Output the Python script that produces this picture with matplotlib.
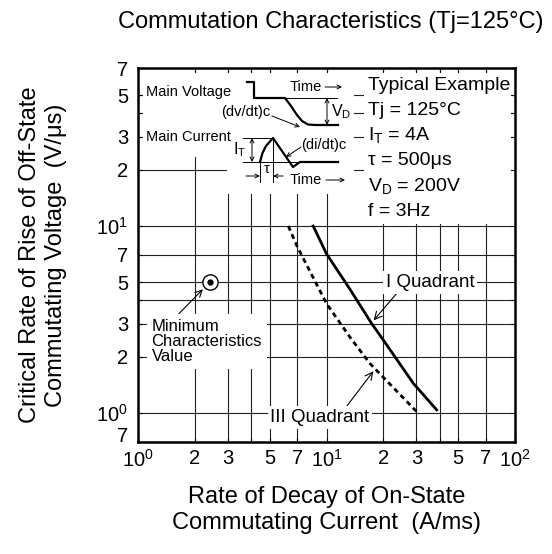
import matplotlib.pyplot as plt
from matplotlib.patches import Rectangle

plt.rcParams['font.family'] = ['Liberation Sans', 'DejaVu Sans']
plt.rcParams['mathtext.default'] = 'regular'

# curves (x in A/ms, y in V/us)
q1_rate = [8.5, 10, 13.3, 17.4, 20, 28.9, 38.4]
q1_dvdt = [10, 7.1, 4.6, 3.0, 2.46, 1.44, 1.04]
q3_rate = [6.27, 7.0, 10, 13.3, 17.0, 30.0]
q3_dvdt = [10, 7.75, 3.85, 2.55, 1.84, 1.02]
min_rate = [2.4]
min_dvdt = [5.0]

x_ticks = [1, 2, 3, 5, 7, 10, 20, 30, 50, 70, 100]
x_tick_labels = ['$10^0$', '2', '3', '5', '7', '$10^1$', '2', '3', '5', '7', '$10^2$']
y_ticks = [0.7, 1, 2, 3, 5, 7, 10, 20, 30, 50, 70]
y_tick_labels = ['7', '$10^0$', '2', '3', '5', '7', '$10^1$', '2', '3', '5', '7']
extra_grid = [4, 40]

cond_lines = ['Typical Example', 'Tj = 125°C', 'I$_T$ = 4A', 'τ = 500μs',
              'V$_D$ = 200V', 'f = 3Hz']

# waveform sketch, in sketch units (pixels of the inset, y down)
volt_t = [247, 254, 254, 285, 291, 297, 302, 308, 315, 338]
volt_v = [82, 82, 98, 98, 106, 115, 121, 124.5, 125, 125]
curr_t = [260, 262.5, 266, 273, 293, 300, 338]
curr_i = [162, 153, 146, 138, 167, 162, 162]

W, H = 552, 554
fig = plt.figure(figsize=(W / 100, H / 100), dpi=100)
ax = fig.add_axes([138 / W, 1 - 442 / H, 377 / W, 374 / H])
ax.set_xscale('log')
ax.set_yscale('log')
ax.set_xlim(1, 100)
ax.set_ylim(0.7, 70)

ax.set_xticks(x_ticks)
ax.set_xticklabels(x_tick_labels)
ax.set_xticks(extra_grid, minor=True)
ax.set_yticks(y_ticks)
ax.set_yticklabels(y_tick_labels)
ax.set_yticks(extra_grid, minor=True)
ax.tick_params(which='both', direction='in', length=3, width=0.8,
               top=True, right=True, labelsize=14.5)
ax.tick_params(axis='x', which='both', pad=5)
ax.tick_params(axis='y', which='both', pad=7)
# bottom "7" sits just above the corner so it clears the x label 10^0
ax.yaxis.get_major_ticks()[0].label1.set_va('baseline')
ax.grid(True, which='both', color='#222222', lw=0.8)
ax.set_axisbelow(True)
for sp in ax.spines.values():
    sp.set_linewidth(1.8)

# white areas that hide the grid behind the legend sketch
for x0, x1, y0, y1 in [(1.06, 3.0, 23.5, 66), (2.95, 14.0, 14.8, 66),
                       (15.9, 95, 10.3, 66)]:
    ax.add_patch(Rectangle((x0, y0), x1 - x0, y1 - y0, facecolor='white',
                           edgecolor='none', zorder=1))

ax.plot(q1_rate, q1_dvdt, color='black', lw=2, zorder=3)
ax.plot(q3_rate, q3_dvdt, color='black', lw=2, ls=(0, (1.8, 1.4)), zorder=3)
ax.plot(min_rate, min_dvdt, 'o', ms=11, mfc='white', mec='black', mew=1.0, zorder=4)
ax.plot(min_rate, min_dvdt, 'o', ms=3.5, color='black', zorder=5)

box = dict(boxstyle='square,pad=0.15', fc='white', ec='none')
arr = dict(arrowstyle='->', lw=0.8, color='black', shrinkA=0, shrinkB=2)
ax.annotate('I Quadrant', xy=(17.4, 3.05), xytext=(35.4, 5.0), fontsize=13.5,
            ha='center', va='center', bbox=box, zorder=6,
            arrowprops=dict(arr, relpos=(0.15, 0)))
ax.annotate('III Quadrant', xy=(18.1, 1.72), xytext=(9.24, 0.95), fontsize=13.5,
            ha='center', va='center', bbox=box, zorder=6,
            arrowprops=dict(arr, relpos=(0.75, 1)))
ax.annotate('Minimum\nCharacteristics\nValue', xy=(min_rate[0], min_dvdt[0]),
            xytext=(1.18, 2.41), fontsize=12, ha='left', va='center',
            linespacing=1.0, bbox=dict(boxstyle='square,pad=0.3', fc='white', ec='none'),
            zorder=6, arrowprops=dict(arr, relpos=(0.2, 1), shrinkB=7))

for i, line in enumerate(cond_lines):
    ax.text(0.61, 0.9545 - i * 0.0674, line, transform=ax.transAxes,
            fontsize=14, ha='left', va='center', zorder=6)

# waveform sketch
sk = fig.add_axes([140 / W, 1 - 192 / H, 220 / W, 120 / H])
sk.set_xlim(140, 360)
sk.set_ylim(192, 72)
sk.axis('off')
sk.patch.set_alpha(0)
fs = 10.5
thin = dict(color='black', lw=0.7)
sk.plot(volt_t, volt_v, color='black', lw=1.6)
sk.plot([285, 337], [98, 98], **thin)
sk.plot([243, 271], [138, 138], **thin)
sk.plot([243, 338], [162, 162], **thin)
sk.plot([260, 260], [162, 182], **thin)
sk.plot([273, 273], [138, 182], **thin)
sk.plot(curr_t, curr_i, color='black', lw=1.6)
dbl = dict(arrowstyle='<->', lw=0.7, color='black', shrinkA=0, shrinkB=0,
           mutation_scale=7)
one = dict(arrowstyle='->', lw=0.7, color='black', shrinkA=0, shrinkB=0,
           mutation_scale=7)
sk.annotate('', xy=(327, 98), xytext=(327, 125), arrowprops=dbl)
sk.annotate('', xy=(252, 138), xytext=(252, 162), arrowprops=dbl)
sk.annotate('', xy=(260, 176), xytext=(246, 176), arrowprops=one)
sk.annotate('', xy=(273, 176), xytext=(283, 176), arrowprops=one)
sk.annotate('', xy=(300, 127), xytext=(272, 116), arrowprops=one)
sk.annotate('', xy=(286, 157), xytext=(301, 147), arrowprops=one)
sk.annotate('', xy=(342, 87), xytext=(325, 87), arrowprops=one)
sk.annotate('', xy=(345, 180), xytext=(326, 180), arrowprops=one)
sk.text(146, 92, 'Main Voltage', fontsize=fs, va='center')
sk.text(146, 137, 'Main Current', fontsize=fs, va='center')
sk.text(270, 112, '(dv/dt)c', fontsize=fs, va='center', ha='right')
sk.text(301, 145, '(di/dt)c', fontsize=fs, va='center')
sk.text(331, 112, 'V$_D$', fontsize=11.5, va='center')
sk.text(246, 150, 'I$_T$', fontsize=11.5, va='center', ha='right')
sk.text(266.5, 169, 'τ', fontsize=fs, va='center', ha='center')
sk.text(290, 87, 'Time', fontsize=fs, va='center')
sk.text(290, 180, 'Time', fontsize=fs, va='center')

fig.text(331 / W, 1 - 22 / H, 'Commutation Characteristics (Tj=125°C)',
         fontsize=17, ha='center', va='center')
ax.set_xlabel('Rate of Decay of On-State\nCommutating Current  (A/ms)',
              fontsize=17, va='center', ha='center')
ax.xaxis.set_label_coords(0.5, (442 - 510) / 374)
ax.set_ylabel('Critical Rate of Rise of Off-State\nCommutating Voltage  (V/μs)',
              fontsize=17, va='center', ha='center')
ax.yaxis.set_label_coords((43 - 138) / 377, 0.5)

fig.savefig('out.png', dpi=100)
